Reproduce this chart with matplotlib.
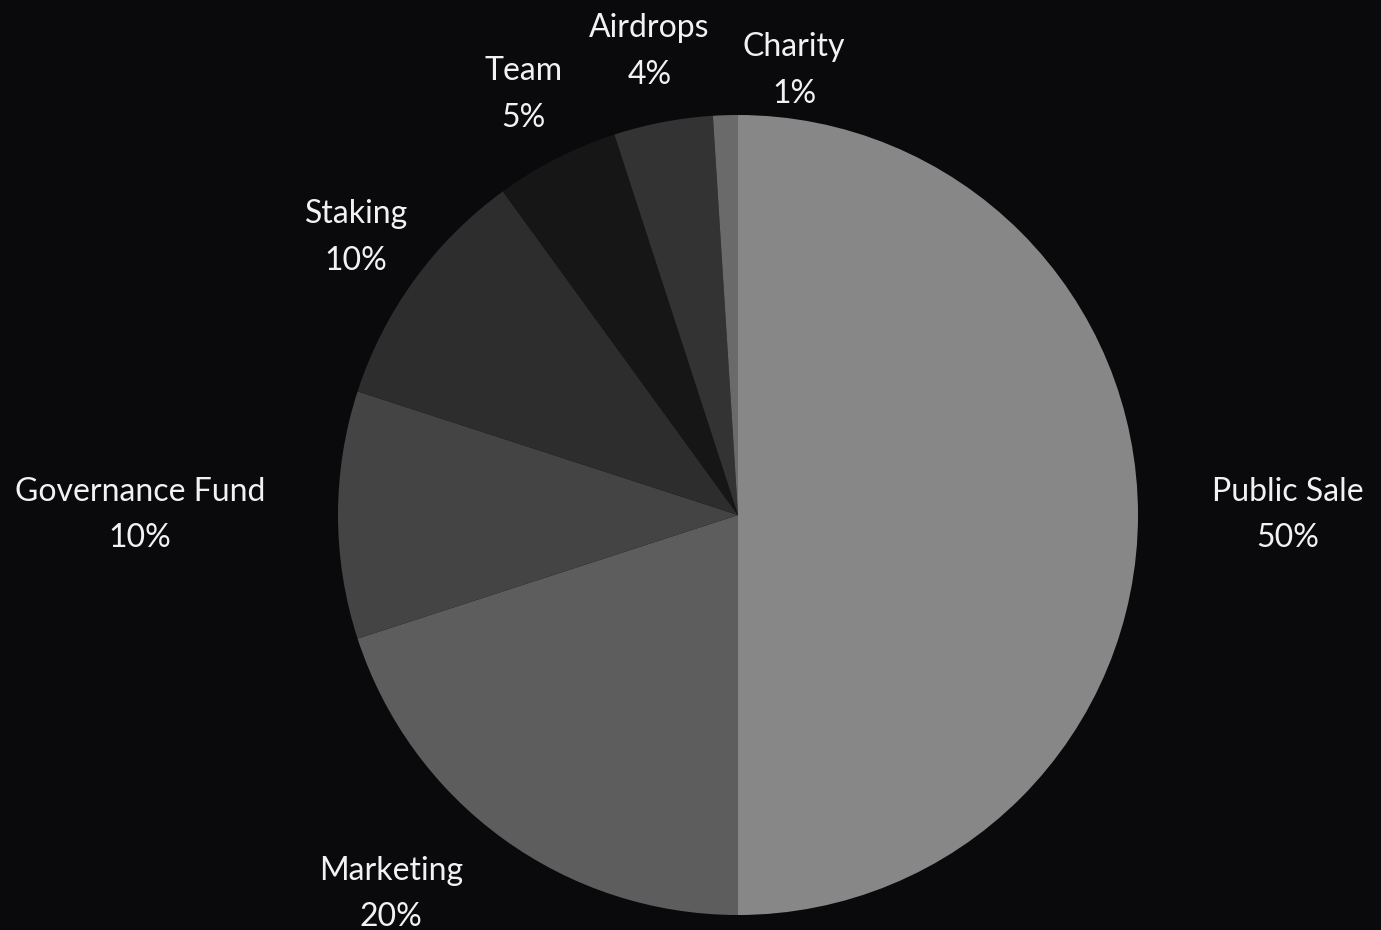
import matplotlib
matplotlib.use("Agg")
import matplotlib.pyplot as plt
import numpy as np

# token allocation, clockwise from 12 o'clock
labels = ["Public Sale", "Marketing", "Governance Fund", "Staking", "Team", "Airdrops", "Charity"]
shares = [50, 20, 10, 10, 5, 4, 1]
colors = ["#878787", "#5d5d5d", "#444444", "#2d2d2d", "#161616", "#333333", "#6a6a6a"]

# label layout: radial distance (in radii) and angle nudge (deg)
label_dist = [1.375, 1.285, 1.495, 1.18, 1.18, 1.18, 1.12]
label_nudge = [0, -6.5, 0, 0, 0, 0, -9]

bg = "#0a0a0d"
fig = plt.figure(figsize=(13.81, 9.30), dpi=100, facecolor=bg)
ax = fig.add_axes([0, 0, 1, 1])
ax.set_facecolor(bg)

wedges, _ = ax.pie(shares, colors=colors, startangle=90, counterclock=False,
                   radius=1.0, center=(0, 0),
                   wedgeprops=dict(linewidth=0, antialiased=True))

# 1 data unit = 400 px, pie centre at (738, 515) px
ax.set_xlim(-738 / 400, (1381 - 738) / 400)
ax.set_ylim(-(930 - 515) / 400, 515 / 400)
ax.set_aspect("auto")
ax.axis("off")

for w, lab, s, d, nudge in zip(wedges, labels, shares, label_dist, label_nudge):
    mid = np.deg2rad((w.theta1 + w.theta2) / 2 + nudge)
    x, y = d * np.cos(mid), d * np.sin(mid)
    ax.text(x, y, f"{lab}\n{s}%", ha="center", va="center", color="#f2f2f2",
            fontsize=23, family="Lato", linespacing=1.7)

fig.savefig("out.png", dpi=100, facecolor=bg)
